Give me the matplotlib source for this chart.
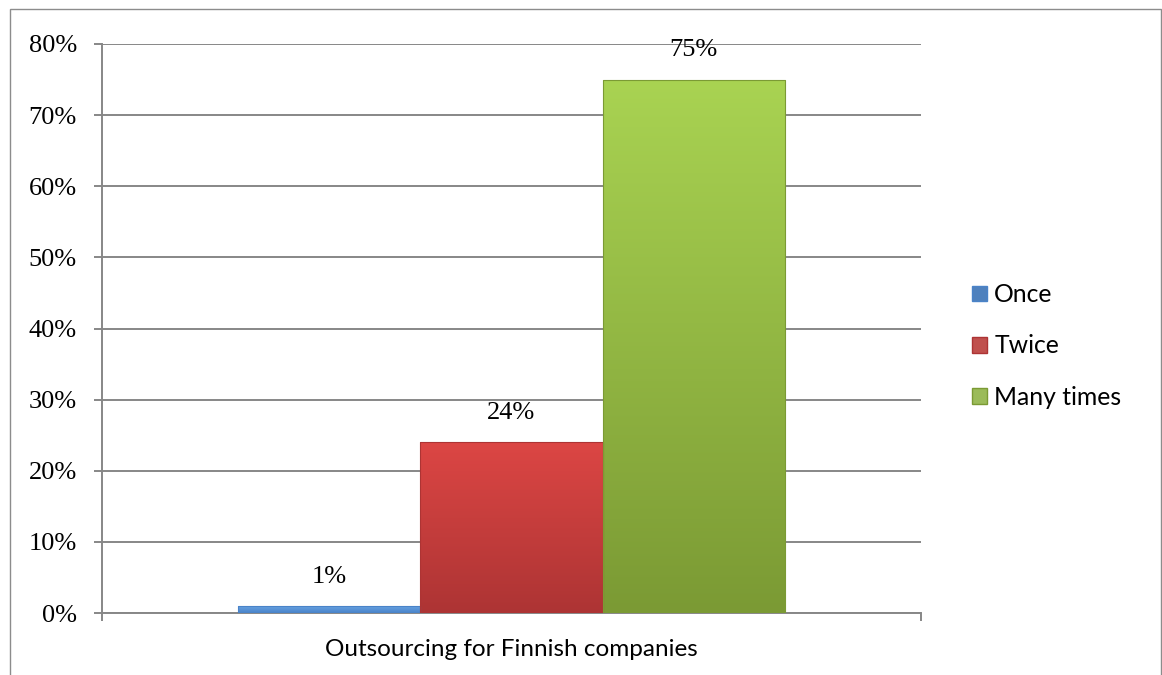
import matplotlib
matplotlib.use("Agg")
import matplotlib.pyplot as plt
import numpy as np
from matplotlib.patches import Rectangle, Patch
from matplotlib.colors import LinearSegmentedColormap

category = "Outsourcing for Finnish companies"
series = ["Once", "Twice", "Many times"]
values = [0.01, 0.24, 0.75]
labels = ["1%", "24%", "75%"]
yticks = [0.0, 0.1, 0.2, 0.3, 0.4, 0.5, 0.6, 0.7, 0.8]
ytick_labels = ["0%", "10%", "20%", "30%", "40%", "50%", "60%", "70%", "80%"]

top_colors = ["#6aa6e6", "#dc4644", "#a9d352"]
bot_colors = ["#4a83c8", "#ad3434", "#7b9a34"]
legend_colors = ["#4f81bd", "#c0504d", "#9bbb59"]

fig = plt.figure(figsize=(11.62, 6.75), dpi=100)
ax = fig.add_axes([102/1162, 1-613/675, (921-102)/1162, (613-44)/675])

# outer chart border
fig.patches.append(Rectangle((10/1162, -0.05), (1161-10)/1162, 1-9/675+0.05,
                             transform=fig.transFigure, fill=False,
                             edgecolor="#8c8c8c", linewidth=1.0))

gray = "#878787"
width = 0.2225
offsets = [-width, 0.0, width]
ax.set_xlim(-0.5, 0.5)
ax.set_ylim(0, 0.8)

for i, (v, off) in enumerate(zip(values, offsets)):
    bars = ax.bar(off, v, width=width, color=legend_colors[i], zorder=3,
                  edgecolor="none")
    b = bars[0]
    cmap = LinearSegmentedColormap.from_list("g%d" % i, [bot_colors[i], top_colors[i]])
    grad = np.linspace(0, 1, 256).reshape(-1, 1)
    x0 = b.get_x()
    im = ax.imshow(grad, extent=[x0, x0 + width, 0, v], origin="lower",
                   cmap=cmap, aspect="auto", zorder=3.5)
    im.set_clip_path(b)
    ax.add_patch(Rectangle((x0, 0), width, v, fill=False,
                           edgecolor=bot_colors[i], linewidth=0.8, zorder=4))
    ax.annotate(labels[i], xy=(off, v), xytext=(0, 21), textcoords="offset points",
                ha="center", va="center", fontsize=19,
                family="Liberation Serif", zorder=5)

ax.set_yticks(yticks)
ax.set_yticklabels(ytick_labels, family="Liberation Serif", fontsize=19)
ax.yaxis.grid(True, color=gray, linewidth=1.4, zorder=0)
ax.set_axisbelow(True)
ax.tick_params(axis="y", direction="out", length=6, width=1.4, color=gray, pad=12)
ax.set_xticks([-0.5, 0.5])
ax.set_xticklabels(["", ""])
ax.tick_params(axis="x", direction="out", length=6, width=1.4, color=gray)
ax.set_xlabel(category, family="Lato", fontsize=17.5, labelpad=9)

for s in ["top", "right"]:
    ax.spines[s].set_visible(False)
for s in ["left", "bottom"]:
    ax.spines[s].set_color(gray)
    ax.spines[s].set_linewidth(1.4)

handles = [Patch(facecolor=legend_colors[i], edgecolor=bot_colors[i]) for i in range(3)]
leg = fig.legend(handles, series, loc="center left",
                 bbox_to_anchor=(972/1162, 1-346/675), frameon=False,
                 borderpad=0, borderaxespad=0,
                 prop={"family": "Lato", "size": 17.8},
                 handlelength=0.6, handleheight=0.6, handletextpad=0.3,
                 labelspacing=1.15)

fig.savefig("out.png", dpi=100)
